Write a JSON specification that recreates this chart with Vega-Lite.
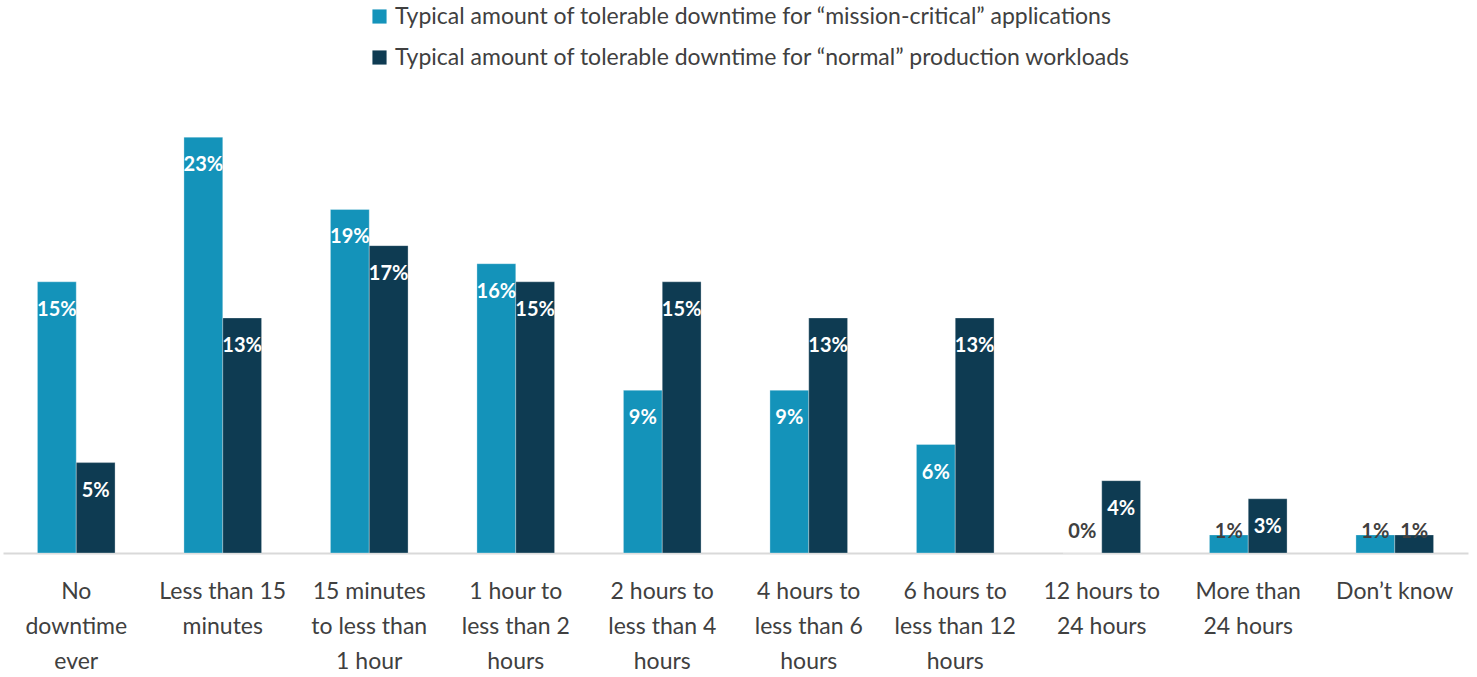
{
  "$schema": "https://vega.github.io/schema/vega-lite/v6.json",
  "width": 1465,
  "height": 452,
  "autosize": {"type": "none"},
  "padding": {"left": 3, "top": 101, "right": 9, "bottom": 124},
  "background": "white",
  "config": {
    "view": {"stroke": null},
    "font": "Lato"
  },
  "data": {
    "values": [
      {"category": "No downtime ever", "series": "Typical amount of tolerable downtime for “mission-critical” applications", "value": 15},
      {"category": "No downtime ever", "series": "Typical amount of tolerable downtime for “normal” production workloads", "value": 5},
      {"category": "Less than 15 minutes", "series": "Typical amount of tolerable downtime for “mission-critical” applications", "value": 23},
      {"category": "Less than 15 minutes", "series": "Typical amount of tolerable downtime for “normal” production workloads", "value": 13},
      {"category": "15 minutes to less than 1 hour", "series": "Typical amount of tolerable downtime for “mission-critical” applications", "value": 19},
      {"category": "15 minutes to less than 1 hour", "series": "Typical amount of tolerable downtime for “normal” production workloads", "value": 17},
      {"category": "1 hour to less than 2 hours", "series": "Typical amount of tolerable downtime for “mission-critical” applications", "value": 16},
      {"category": "1 hour to less than 2 hours", "series": "Typical amount of tolerable downtime for “normal” production workloads", "value": 15},
      {"category": "2 hours to less than 4 hours", "series": "Typical amount of tolerable downtime for “mission-critical” applications", "value": 9},
      {"category": "2 hours to less than 4 hours", "series": "Typical amount of tolerable downtime for “normal” production workloads", "value": 15},
      {"category": "4 hours to less than 6 hours", "series": "Typical amount of tolerable downtime for “mission-critical” applications", "value": 9},
      {"category": "4 hours to less than 6 hours", "series": "Typical amount of tolerable downtime for “normal” production workloads", "value": 13},
      {"category": "6 hours to less than 12 hours", "series": "Typical amount of tolerable downtime for “mission-critical” applications", "value": 6},
      {"category": "6 hours to less than 12 hours", "series": "Typical amount of tolerable downtime for “normal” production workloads", "value": 13},
      {"category": "12 hours to 24 hours", "series": "Typical amount of tolerable downtime for “mission-critical” applications", "value": 0},
      {"category": "12 hours to 24 hours", "series": "Typical amount of tolerable downtime for “normal” production workloads", "value": 4},
      {"category": "More than 24 hours", "series": "Typical amount of tolerable downtime for “mission-critical” applications", "value": 1},
      {"category": "More than 24 hours", "series": "Typical amount of tolerable downtime for “normal” production workloads", "value": 3},
      {"category": "Don’t know", "series": "Typical amount of tolerable downtime for “mission-critical” applications", "value": 1},
      {"category": "Don’t know", "series": "Typical amount of tolerable downtime for “normal” production workloads", "value": 1}
    ]
  },
  "transform": [{"calculate": "datum.value + '%'", "as": "label"}],
  "encoding": {
    "x": {
      "field": "category",
      "type": "nominal",
      "sort": null,
      "scale": {"paddingInner": 0.47, "paddingOuter": 0.235},
      "axis": {
        "title": null,
        "labelAngle": 0,
        "ticks": false,
        "domainColor": "#D9D9D9",
        "domainWidth": 2,
        "labelFontSize": 23,
        "labelColor": "#404040",
        "labelPadding": 38,
        "labelLineHeight": 35,
        "labelBaseline": "middle",
        "labelExpr": "datum.label == 'No downtime ever' ? ['No','downtime','ever'] : datum.label == 'Less than 15 minutes' ? ['Less than 15','minutes'] : datum.label == '15 minutes to less than 1 hour' ? ['15 minutes','to less than','1 hour'] : datum.label == '1 hour to less than 2 hours' ? ['1 hour to','less than 2','hours'] : datum.label == '2 hours to less than 4 hours' ? ['2 hours to','less than 4','hours'] : datum.label == '4 hours to less than 6 hours' ? ['4 hours to','less than 6','hours'] : datum.label == '6 hours to less than 12 hours' ? ['6 hours to','less than 12','hours'] : datum.label == '12 hours to 24 hours' ? ['12 hours to','24 hours'] : datum.label == 'More than 24 hours' ? ['More than','24 hours'] : datum.label"
      }
    },
    "xOffset": {"field": "series", "type": "nominal"},
    "y": {
      "field": "value",
      "type": "quantitative",
      "scale": {"domain": [0, 25]},
      "axis": null
    }
  },
  "layer": [
    {
      "mark": {"type": "bar", "stroke": "white", "strokeWidth": 0.5, "strokeOpacity": 0.6},
      "encoding": {
        "color": {
          "field": "series",
          "type": "nominal",
          "scale": {"range": ["#1493BA", "#0E3B52"]},
          "legend": {
            "title": null,
            "orient": "none",
            "legendX": 365,
            "legendY": -96,
            "direction": "vertical",
            "symbolType": "square",
            "symbolSize": 200,
            "symbolStrokeWidth": 0,
            "labelFontSize": 23,
            "labelColor": "#404040",
            "rowPadding": 17,
            "labelLimit": 900
          }
        }
      }
    },
    {
      "transform": [{"filter": "datum.value > 2"}],
      "mark": {"type": "text", "baseline": "middle", "dy": 28, "fontWeight": "bold", "fontSize": 20, "color": "white"},
      "encoding": {
        "text": {"field": "label", "type": "nominal"},
        "detail": {"field": "series"}
      }
    },
    {
      "transform": [{"filter": "datum.value <= 2"}],
      "mark": {"type": "text", "baseline": "middle", "dy": -21, "fontWeight": "bold", "fontSize": 20, "color": "#404040"},
      "encoding": {
        "y": {"datum": 0},
        "text": {"field": "label", "type": "nominal"},
        "detail": {"field": "series"}
      }
    }
  ]
}
